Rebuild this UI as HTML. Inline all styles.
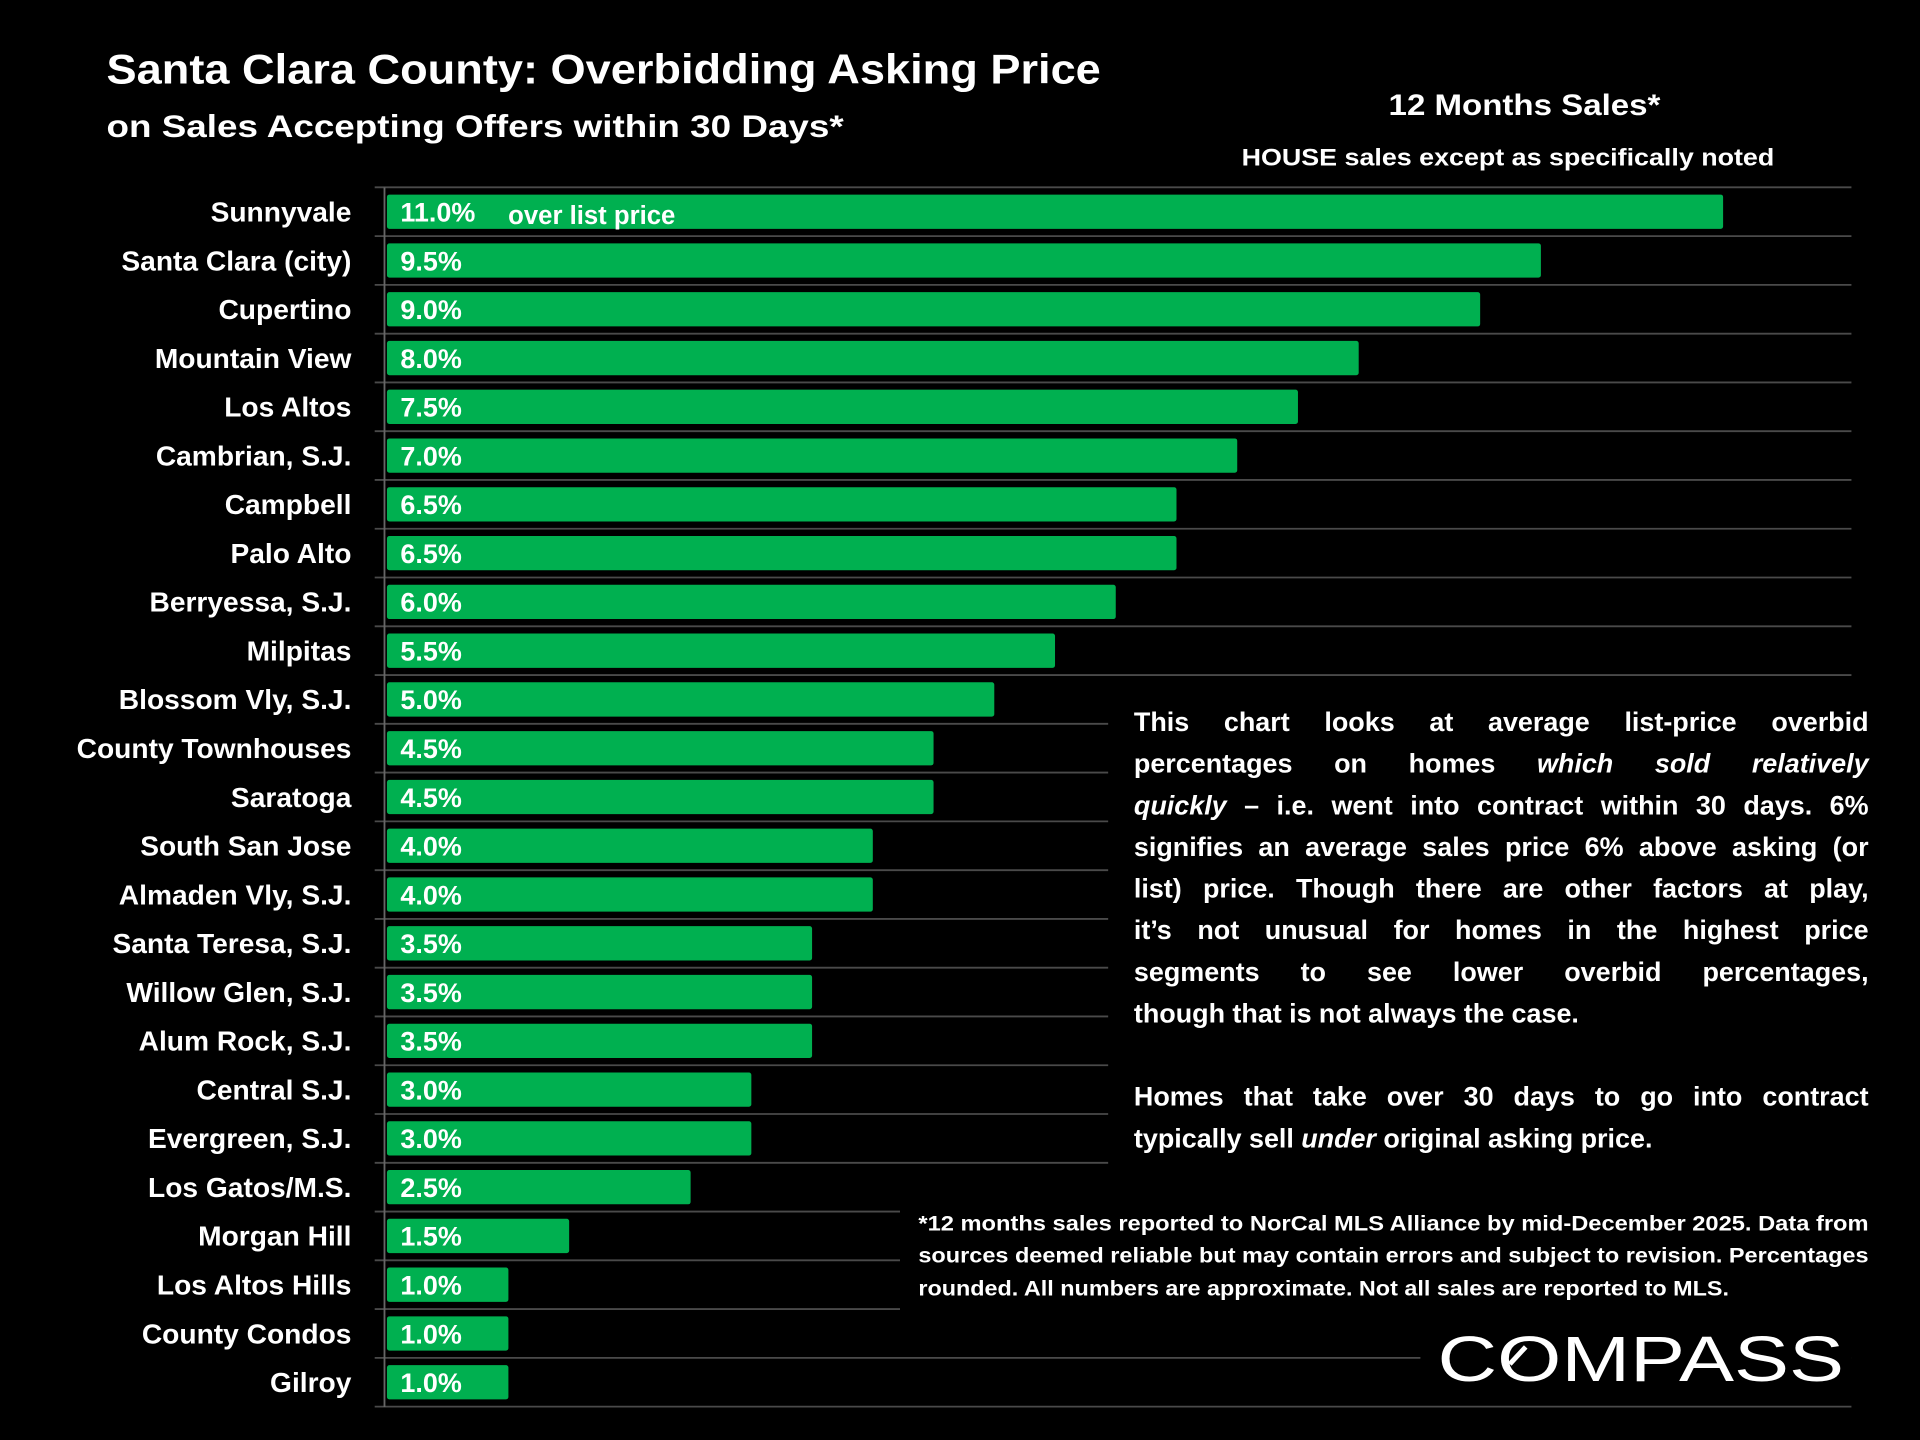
<!DOCTYPE html>
<html><head><meta charset="utf-8"><style>
html,body{margin:0;padding:0;background:#000;width:1920px;height:1440px;overflow:hidden}
svg{display:block}
text{font-family:"Liberation Sans",sans-serif;fill:#fff;font-weight:bold}
</style></head><body>
<svg id="chart" width="1920" height="1440" viewBox="0 0 1568 1176" xmlns="http://www.w3.org/2000/svg">
<rect x="0" y="0" width="1568" height="1176" fill="#000"/>
<text x="87" y="68" font-size="34" textLength="812" lengthAdjust="spacingAndGlyphs">Santa Clara County: Overbidding Asking Price</text>
<text x="87" y="112" font-size="26" textLength="602" lengthAdjust="spacingAndGlyphs">on Sales Accepting Offers within 30 Days*</text>
<text x="1134" y="94" font-size="24" textLength="222" lengthAdjust="spacingAndGlyphs">12 Months Sales*</text>
<text x="1014" y="135" font-size="20" textLength="435" lengthAdjust="spacingAndGlyphs">HOUSE sales except as specifically noted</text>
<g id="grid"></g>
<line x1="314" y1="153" x2="314" y2="1149" stroke="#666" stroke-width="1.5"/>
<g id="bars"></g>
<g id="labels"></g>
<rect x="905" y="560" width="640" height="395" fill="#000"/>
<g id="para" font-size="22"></g>
<rect x="735" y="984" width="800" height="86" fill="#000"/>
<g font-size="17">
<text x="750" y="1005" textLength="776" lengthAdjust="spacingAndGlyphs">*12 months sales reported to NorCal MLS Alliance by mid-December 2025. Data from</text>
<text x="750" y="1031" textLength="776" lengthAdjust="spacingAndGlyphs">sources deemed reliable but may contain errors and subject to revision. Percentages</text>
<text x="750" y="1058" textLength="662" lengthAdjust="spacingAndGlyphs">rounded. All numbers are approximate. Not all sales are reported to MLS.</text>
</g>
<rect x="1160" y="1080" width="352" height="50" fill="#000"/>
<text x="1174" y="1128" font-size="52" style="font-weight:normal" textLength="332" lengthAdjust="spacingAndGlyphs">COMPASS</text>
<line x1="1233" y1="1114" x2="1246" y2="1100" stroke="#fff" stroke-width="4"/>
</svg>
<script>
const categories=["Sunnyvale","Santa Clara (city)","Cupertino","Mountain View","Los Altos","Cambrian, S.J.","Campbell","Palo Alto","Berryessa, S.J.","Milpitas","Blossom Vly, S.J.","County Townhouses","Saratoga","South San Jose","Almaden Vly, S.J.","Santa Teresa, S.J.","Willow Glen, S.J.","Alum Rock, S.J.","Central S.J.","Evergreen, S.J.","Los Gatos/M.S.","Morgan Hill","Los Altos Hills","County Condos","Gilroy"];
const values=[11.0,9.5,9.0,8.0,7.5,7.0,6.5,6.5,6.0,5.5,5.0,4.5,4.5,4.0,4.0,3.5,3.5,3.5,3.0,3.0,2.5,1.5,1.0,1.0,1.0];
const valueLabels=["11.0%","9.5%","9.0%","8.0%","7.5%","7.0%","6.5%","6.5%","6.0%","5.5%","5.0%","4.5%","4.5%","4.0%","4.0%","3.5%","3.5%","3.5%","3.0%","3.0%","2.5%","1.5%","1.0%","1.0%","1.0%"];
const NS="http://www.w3.org/2000/svg";
const x0=316,pxPer=99.2,top0=153,step=39.83,bh=28;
function xScale(v){return x0+v*pxPer;}
function yCenter(i){return top0+step*(i+0.5);}
const grid=document.getElementById('grid'),bars=document.getElementById('bars'),labels=document.getElementById('labels');
for(let i=0;i<=categories.length;i++){
  const l=document.createElementNS(NS,'line');
  
  
  const y=top0+step*i;
  l.setAttribute('x1',306);l.setAttribute('x2',1512);l.setAttribute('y1',y);l.setAttribute('y2',y);
  l.setAttribute('stroke','#4a4a4a');l.setAttribute('stroke-width','1.5');
  grid.appendChild(l);
}
categories.forEach((c,i)=>{
  const yc=yCenter(i);
  const r=document.createElementNS(NS,'rect');
  
  
  r.setAttribute('x',x0);r.setAttribute('y',yc-bh/2);r.setAttribute('width',xScale(values[i])-x0);r.setAttribute('height',bh);
  r.setAttribute('rx',2);r.setAttribute('fill','#00b050');
  bars.appendChild(r);
  const v=document.createElementNS(NS,'text');
  
  
  v.setAttribute('x',327);v.setAttribute('y',yc+8);v.setAttribute('font-size','22');
  v.textContent=valueLabels[i];
  bars.appendChild(v);
  const t=document.createElementNS(NS,'text');
  
  
  t.setAttribute('x',287);t.setAttribute('y',yc+8);t.setAttribute('font-size','23');t.setAttribute('text-anchor','end');
  t.textContent=c;
  labels.appendChild(t);
});
const o=document.createElementNS(NS,'text');


o.setAttribute('x',415);o.setAttribute('y',yCenter(0)+10);o.setAttribute('font-size','21');
o.textContent='over list price';
bars.appendChild(o);

// justified paragraph: words prefixed with "_" are italic
const paraLines=[
 ["This chart looks at average list-price overbid",597,true],
 ["percentages on homes _which _sold _relatively",631,true],
 ["_quickly – i.e. went into contract within 30 days. 6%",665,true],
 ["signifies an average sales price 6% above asking (or",699,true],
 ["list) price.  Though there are other factors at play,",733,true],
 ["it’s not unusual for homes in the highest price",767,true],
 ["segments to see lower overbid percentages,",801,true],
 ["though that is not always the case.",835,false],
 ["Homes that take over 30 days to go into contract",903,true],
 ["typically sell _under original asking price.",937,false]
];
const para=document.getElementById('para');
paraLines.forEach(([s,y,just])=>{
  const words=s.split(/\s+/);
  const els=words.map(w=>{
    const t=document.createElementNS(NS,'text');
    
    
    t.setAttribute('y',y);
    if(w.startsWith('_')){t.setAttribute('font-style','italic');w=w.slice(1);}
    t.textContent=w;para.appendChild(t);return t;
  });
  const widths=els.map(e=>e.getComputedTextLength());
  const total=widths.reduce((a,b)=>a+b,0);
  const space=6;
  let gap=just?(600-total)/(els.length-1):space;
  if(!just){
    // compress slightly if natural width is wider than Calibri-ish target
    gap=space;
  }
  let x=926;
  els.forEach((e,i)=>{e.setAttribute('x',x);x+=widths[i]+gap;});
});
</script>
</body></html>
